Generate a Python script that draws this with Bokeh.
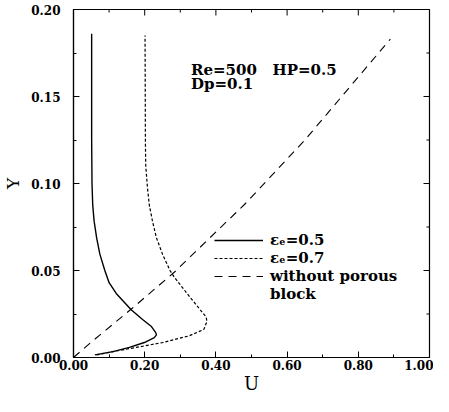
import math
from bokeh.plotting import figure
from bokeh.models import (Range1d, SingleIntervalTicker, PrintfTickFormatter,
                          Legend, LegendItem, Label)
from bokeh.embed import file_html
from bokeh.resources import INLINE

# --- data ---
eps05_u = [0.060, 0.111, 0.157, 0.199, 0.227, 0.233, 0.231, 0.218, 0.194, 0.162, 0.120,
           0.100, 0.088, 0.074, 0.065, 0.058, 0.054, 0.052, 0.051, 0.051]
eps05_y = [0.0015, 0.0034, 0.0058, 0.0086, 0.0114, 0.0130, 0.0143, 0.0180, 0.0218, 0.0274,
           0.0368, 0.0430, 0.050, 0.0594, 0.0688, 0.0782, 0.0876, 0.100, 0.125, 0.186]

eps07_u = [0.065, 0.111, 0.176, 0.250, 0.324, 0.366, 0.375, 0.372, 0.356, 0.319, 0.283,
           0.271, 0.250, 0.233, 0.222, 0.213, 0.208, 0.203, 0.202, 0.201]
eps07_y = [0.0015, 0.0034, 0.0058, 0.0086, 0.0124, 0.0161, 0.0208, 0.0235, 0.0274, 0.0368,
           0.0462, 0.050, 0.0594, 0.0688, 0.0782, 0.0876, 0.097, 0.110, 0.123, 0.185]

noblock_u = [0.0, 0.045, 0.165, 0.283, 0.483, 0.65, 0.89]
noblock_y = [0.0, 0.0080, 0.0283, 0.049, 0.0885, 0.125, 0.183]

# tick positions mirrored on the top and right frame edges
x_major = [0.0, 0.2, 0.4, 0.6, 0.8, 1.0]
x_minor = [0.1, 0.3, 0.5, 0.7, 0.9]
y_major = [0.0, 0.05, 0.10, 0.15, 0.20]
y_minor = [0.025, 0.075, 0.125, 0.175]

labels = ["\u03b5\u2091=0.5", "\u03b5\u2091=0.7", "without porous", "block"]
annot_1 = "Re=500\u00a0\u00a0\u00a0HP=0.5"
annot_2 = "Dp=0.1"
x_title = "U"
y_title = "Y"

SERIF = "DejaVu Serif"
X0, X1, Y0, Y1 = 0.0, 1.0, 0.0, 0.20

p = figure(width=433, height=396, output_backend="svg", toolbar_location=None,
           x_range=Range1d(X0, X1), y_range=Range1d(Y0, Y1),
           x_axis_label=x_title, y_axis_label=y_title,
           min_border_left=68, min_border_right=4, min_border_top=9, min_border_bottom=32)
p.grid.visible = False
p.outline_line_color = "black"
p.outline_line_width = 1.2
p.background_fill_color = "white"
p.border_fill_color = "white"

p.xaxis.ticker = SingleIntervalTicker(interval=0.2, num_minor_ticks=2)
p.yaxis.ticker = SingleIntervalTicker(interval=0.05, num_minor_ticks=2)
p.xaxis.formatter = PrintfTickFormatter(format="%.2f")
p.yaxis.formatter = PrintfTickFormatter(format="%.2f")

for ax in (p.xaxis[0], p.yaxis[0]):
    ax.major_tick_in = 6
    ax.major_tick_out = 0
    ax.minor_tick_in = 3
    ax.minor_tick_out = 0
    ax.axis_line_color = "black"
    ax.axis_line_width = 1.2
    ax.major_tick_line_color = "black"
    ax.minor_tick_line_color = "black"
    ax.major_label_text_font = SERIF
    ax.major_label_text_font_style = "bold"
    ax.major_label_text_font_size = "12px"
    ax.major_label_text_color = "black"
    ax.axis_label_text_font = SERIF
    ax.axis_label_text_font_style = "normal"
    ax.axis_label_text_color = "black"

p.xaxis.major_label_standoff = 2
p.xaxis.axis_label_standoff = 0
p.xaxis.axis_label_text_font_size = "18px"
p.yaxis.major_label_standoff = 13
p.yaxis.axis_label_standoff = 5
p.yaxis.axis_label_text_font_size = "17px"

# inward ticks on the top and right edges of the frame
p.ray(x=x_major, y=[Y1] * len(x_major), length=6, length_units="screen",
      angle=-math.pi / 2, line_color="black", line_width=1)
p.ray(x=x_minor, y=[Y1] * len(x_minor), length=3, length_units="screen",
      angle=-math.pi / 2, line_color="black", line_width=1)
p.ray(x=[X1] * len(y_major), y=y_major, length=6, length_units="screen",
      angle=math.pi, line_color="black", line_width=1)
p.ray(x=[X1] * len(y_minor), y=y_minor, length=3, length_units="screen",
      angle=math.pi, line_color="black", line_width=1)

r1 = p.line(eps05_u, eps05_y, line_color="black", line_width=1.4)
r2 = p.line(eps07_u, eps07_y, line_color="black", line_width=1.2, line_dash="3 2")
r3 = p.line(noblock_u, noblock_y, line_color="black", line_width=1.1, line_dash="8 6")

legend = Legend(items=[LegendItem(label=labels[0], renderers=[r1]),
                       LegendItem(label=labels[1], renderers=[r2]),
                       LegendItem(label=labels[2], renderers=[r3]),
                       LegendItem(label=labels[3], renderers=[])],
                location=(141, 54), padding=0, margin=0, spacing=-2,
                glyph_width=49, glyph_height=14, label_height=14, label_standoff=7,
                label_text_font=SERIF, label_text_font_style="bold",
                label_text_font_size="15px", label_text_color="black",
                border_line_alpha=0, background_fill_alpha=0)
p.add_layout(legend)

for txt, yy in ((annot_1, 0.1652), (annot_2, 0.1572)):
    p.add_layout(Label(x=0.33, y=yy, text=txt, text_font=SERIF, text_font_style="bold",
                       text_font_size="15px", text_color="black",
                       text_baseline="alphabetic", text_align="left"))

open("out.html", "w").write(file_html(p, INLINE))
